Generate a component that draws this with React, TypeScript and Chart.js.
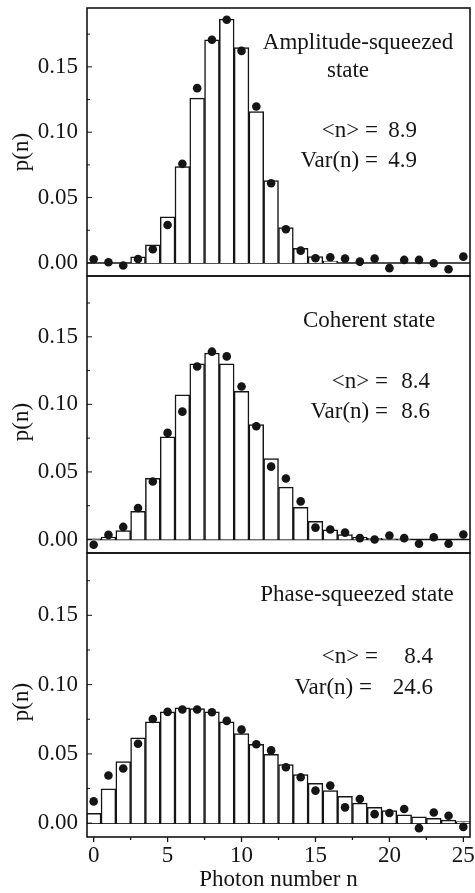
import React, { useEffect, useRef } from "react";
import { Chart, registerables } from "chart.js";

Chart.register(...registerables);

// ---------------- data ----------------
const photonNumbers = [0, 1, 2, 3, 4, 5, 6, 7, 8, 9, 10, 11, 12, 13, 14, 15, 16, 17, 18, 19, 20, 21, 22, 23, 24, 25];

const ampTheory = [0, 0, 0, 0.0046, 0.0138, 0.0352, 0.0737, 0.126, 0.1707, 0.1865, 0.1648, 0.1158, 0.063, 0.027, 0.0112, 0.0048, 0.0015, 0, 0, 0, 0, 0, 0, 0, 0, 0];
const ampMeasured = [0.0028, 0.0005, -0.002, 0.003, 0.0105, 0.029, 0.0758, 0.1337, 0.1707, 0.186, 0.1622, 0.1196, 0.061, 0.0258, 0.0094, 0.0036, 0.0043, 0.0033, 0.001, 0.0033, -0.004, 0.0023, 0.0023, -0.0003, -0.0048, 0.0048];

const cohTheory = [0.0003, 0.0017, 0.0066, 0.0208, 0.0453, 0.076, 0.107, 0.13, 0.138, 0.13, 0.1096, 0.085, 0.0598, 0.0387, 0.0238, 0.0135, 0.0071, 0.0037, 0.0017, 0.0008, 0.0003, 0.0001, 0, 0, 0, 0];
const cohMeasured = [-0.0039, 0.0034, 0.0093, 0.0233, 0.0429, 0.0789, 0.0946, 0.128, 0.139, 0.1355, 0.1132, 0.0838, 0.0539, 0.0451, 0.0282, 0.0088, 0.0074, 0.0051, 0.001, 0, 0.0029, 0.001, -0.0032, 0.0017, -0.0032, 0.0037];

const phaseTheory = [0.007, 0.0247, 0.0445, 0.0615, 0.0731, 0.0803, 0.0832, 0.0827, 0.0803, 0.0731, 0.0646, 0.0569, 0.0496, 0.0423, 0.0351, 0.0288, 0.0235, 0.0194, 0.0145, 0.0114, 0.009, 0.006, 0.0046, 0.0034, 0.0022, 0.0012];
const phaseMeasured = [0.0157, 0.0344, 0.0394, 0.0573, 0.0752, 0.0803, 0.082, 0.082, 0.0801, 0.0738, 0.0675, 0.0569, 0.0525, 0.0404, 0.0331, 0.0235, 0.0271, 0.0114, 0.0174, 0.0065, 0.0073, 0.0102, -0.0036, 0.0077, 0.0053, -0.0027];

const yTickValues = [0, 0.05, 0.1, 0.15];
const yMinorValues = [0.025, 0.075, 0.125, 0.175];
const xTickValues = [0, 5, 10, 15, 20, 25];
const xMinorValues = [2.5, 7.5, 12.5, 17.5, 22.5];

const Y_MIN = -0.01;
const Y_MAX = 0.195;
const X_MIN = -0.45;
const X_MAX = 25.45;

const FONT = "'Liberation Serif', 'Times New Roman', Times, serif";
const INK = "#151515";

type Note = { text: string; x: number; y: number; align: CanvasTextAlign };

const ampNotes: Note[] = [
  { text: "Amplitude-squeezed", x: 358, y: 49, align: "center" },
  { text: "state", x: 348, y: 77, align: "center" },
  { text: "<n> =", x: 378, y: 137, align: "right" },
  { text: "8.9", x: 417, y: 137, align: "right" },
  { text: "Var(n) =", x: 378, y: 167, align: "right" },
  { text: "4.9", x: 417, y: 167, align: "right" },
];
const cohNotes: Note[] = [
  { text: "Coherent state", x: 369, y: 327, align: "center" },
  { text: "<n> =", x: 388, y: 388, align: "right" },
  { text: "8.4", x: 430, y: 388, align: "right" },
  { text: "Var(n) =", x: 388, y: 418, align: "right" },
  { text: "8.6", x: 430, y: 418, align: "right" },
];
const phaseNotes: Note[] = [
  { text: "Phase-squeezed state", x: 357, y: 601, align: "center" },
  { text: "<n> =", x: 378, y: 663, align: "right" },
  { text: "8.4", x: 433, y: 663, align: "right" },
  { text: "Var(n) =", x: 372, y: 694, align: "right" },
  { text: "24.6", x: 433, y: 694, align: "right" },
];

type PanelProps = {
  top: number;
  height: number;
  padTop: number;
  padBottom: number;
  theory: number[];
  measured: number[];
  notes: Note[];
  yLabelY: number;
  showX: boolean;
};

function Panel({ top, height, padTop, padBottom, theory, measured, notes, yLabelY, showX }: PanelProps) {
  const ref = useRef<HTMLCanvasElement | null>(null);

  useEffect(() => {
    if (!ref.current) return;

    const decor = {
      id: "panelDecor",
      beforeDatasetsDraw(chart: any) {
        const { ctx, chartArea } = chart;
        const ys = chart.scales.y;
        const y0 = ys.getPixelForValue(0);
        ctx.save();
        ctx.strokeStyle = INK;
        ctx.lineWidth = 1.6;
        ctx.beginPath();
        ctx.moveTo(chartArea.left, y0);
        ctx.lineTo(chartArea.right, y0);
        ctx.stroke();
        ctx.restore();
      },
      afterDraw(chart: any) {
        const { ctx, chartArea } = chart;
        const ys = chart.scales.y;
        const xs = chart.scales.x;
        ctx.save();
        ctx.strokeStyle = INK;
        ctx.lineWidth = 1.6;
        ctx.strokeRect(chartArea.left, chartArea.top, chartArea.right - chartArea.left, chartArea.bottom - chartArea.top);

        ctx.lineWidth = 1;
        // inward y ticks
        ctx.beginPath();
        yTickValues.forEach((v) => {
          const p = ys.getPixelForValue(v);
          ctx.moveTo(chartArea.left, p);
          ctx.lineTo(chartArea.left + 5, p);
        });
        yMinorValues.forEach((v) => {
          const p = ys.getPixelForValue(v);
          if (p > chartArea.top + 1) {
            ctx.moveTo(chartArea.left, p);
            ctx.lineTo(chartArea.left + 3, p);
          }
        });
        ctx.stroke();

        if (showX) {
          ctx.lineWidth = 1.3;
          ctx.beginPath();
          xTickValues.forEach((v) => {
            const p = xs.getPixelForValue(v);
            ctx.moveTo(p, chartArea.bottom);
            ctx.lineTo(p, chartArea.bottom + 5);
          });
          xMinorValues.forEach((v) => {
            const p = xs.getPixelForValue(v);
            ctx.moveTo(p, chartArea.bottom);
            ctx.lineTo(p, chartArea.bottom + 3);
          });
          ctx.stroke();
        }

        // annotations
        ctx.fillStyle = INK;
        ctx.font = `23px ${FONT}`;
        ctx.textBaseline = "alphabetic";
        notes.forEach((n) => {
          ctx.textAlign = n.align;
          ctx.fillText(n.text, n.x, n.y - top);
        });

        // y label
        ctx.translate(22, yLabelY - top);
        ctx.rotate(-Math.PI / 2);
        ctx.textAlign = "center";
        ctx.textBaseline = "middle";
        ctx.fillText("p(n)", 0, 0);
        ctx.restore();
      },
    };

    const chart = new Chart(ref.current, {
      type: "bar",
      data: {
        datasets: [
          {
            type: "scatter",
            data: photonNumbers.map((n, i) => ({ x: n, y: measured[i] })),
            pointRadius: 4.3,
            pointBackgroundColor: INK,
            pointBorderWidth: 0,
            backgroundColor: INK,
            borderColor: INK,
            order: 1,
          } as any,
          {
            type: "bar",
            data: photonNumbers.map((n, i) => ({ x: n, y: theory[i] })),
            backgroundColor: "#ffffff",
            borderColor: INK,
            borderWidth: 1.5,
            barPercentage: 1,
            categoryPercentage: 1,
            order: 2,
          } as any,
        ],
      },
      options: {
        animation: false,
        responsive: true,
        maintainAspectRatio: false,
        events: [],
        layout: { padding: { top: padTop, bottom: padBottom, left: 0, right: 5 } },
        plugins: { legend: { display: false }, tooltip: { enabled: false } },
        scales: {
          x: {
            type: "linear",
            min: X_MIN,
            max: X_MAX,
            offset: false,
            display: showX,
            grid: { display: false, drawTicks: false },
            border: { display: false },
            afterBuildTicks: (s: any) => {
              s.ticks = xTickValues.map((v) => ({ value: v }));
            },
            afterFit: (s: any) => {
              s.paddingLeft = 0;
              s.paddingRight = 0;
              if (showX) s.height = 56;
            },
            ticks: {
              font: { family: FONT, size: 23 },
              color: INK,
              padding: 5,
              maxRotation: 0,
              autoSkip: false,
              callback: (v: any) => String(v),
            },
            title: {
              display: true,
              text: "Photon number n",
              font: { family: FONT, size: 23, lineHeight: 1 },
              color: INK,
              padding: { top: 0, bottom: 2 },
            },
          },
          y: {
            type: "linear",
            min: Y_MIN,
            max: Y_MAX,
            grid: { display: false, drawTicks: false },
            border: { display: false },
            afterBuildTicks: (s: any) => {
              s.ticks = yTickValues.map((v) => ({ value: v }));
            },
            afterFit: (s: any) => {
              s.width = 87;
              s.paddingTop = 0;
              s.paddingBottom = 0;
            },
            ticks: {
              font: { family: FONT, size: 23 },
              color: INK,
              padding: 9,
              callback: (v: any) => Number(v).toFixed(2),
            },
          },
        },
      } as any,
      plugins: [decor],
    });

    return () => chart.destroy();
  }, []);

  return (
    <div style={{ position: "absolute", left: 0, top, width: 475, height }}>
      <canvas ref={ref} />
    </div>
  );
}

export default function App() {
  return (
    <div style={{ position: "absolute", left: 0, top: 0, width: 475, height: 893, background: "#fff" }}>
      <Panel top={0} height={282} padTop={8} padBottom={6} theory={ampTheory} measured={ampMeasured} notes={ampNotes} yLabelY={152} showX={false} />
      <Panel top={270} height={289} padTop={6} padBottom={6} theory={cohTheory} measured={cohMeasured} notes={cohNotes} yLabelY={422} showX={false} />
      <Panel top={547} height={346} padTop={6} padBottom={0} theory={phaseTheory} measured={phaseMeasured} notes={phaseNotes} yLabelY={702} showX={true} />
    </div>
  );
}
